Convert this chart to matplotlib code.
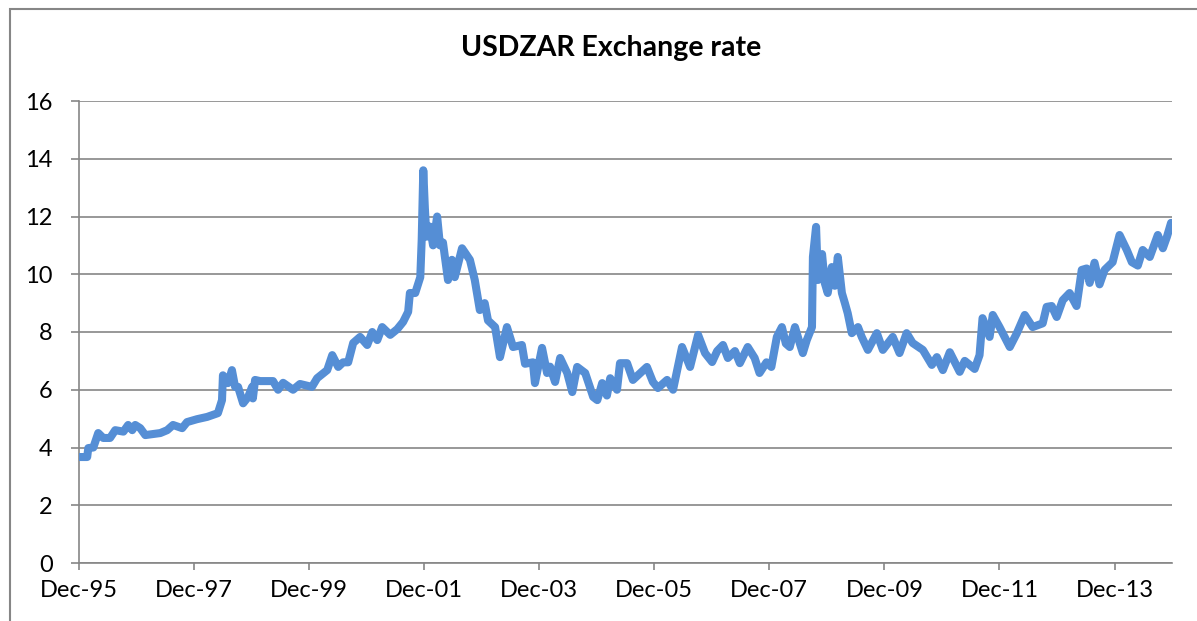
import matplotlib
matplotlib.use("Agg")
import matplotlib.pyplot as plt
import matplotlib.dates as mdates
from matplotlib.patches import Rectangle
import pandas as pd

# USDZAR rate
dates = [
    "1995-12-01", "1996-01-22", "1996-01-29", "1996-03-01", "1996-04-01", "1996-05-03",
    "1996-06-15", "1996-07-18", "1996-09-08", "1996-10-08", "1996-11-03", "1996-11-22",
    "1996-12-24", "1997-01-25", "1997-04-30", "1997-06-13", "1997-07-20", "1997-09-16",
    "1997-10-17", "1997-12-19", "1998-02-22", "1998-05-01", "1998-05-27", "1998-06-02",
    "1998-07-04", "1998-07-29", "1998-08-18", "1998-09-06", "1998-10-08", "1998-11-09",
    "1998-12-04", "1998-12-09", "1998-12-23", "1999-01-24", "1999-04-16", "1999-05-18",
    "1999-06-19", "1999-08-21", "1999-10-04", "1999-12-19", "2000-01-21", "2000-03-25",
    "2000-04-26", "2000-06-03", "2000-07-04", "2000-08-05", "2000-09-06", "2000-10-20",
    "2000-12-04", "2001-01-05", "2001-02-06", "2001-03-09", "2001-04-29", "2001-06-13",
    "2001-07-20", "2001-08-21", "2001-09-01", "2001-10-05", "2001-11-06", "2001-11-15",
    "2001-11-25", "2001-12-05", "2001-12-15", "2002-01-07", "2002-01-26", "2002-02-21",
    "2002-03-11", "2002-03-30", "2002-05-01", "2002-05-26", "2002-06-13", "2002-07-29",
    "2002-09-17", "2002-10-18", "2002-11-19", "2002-12-20", "2003-01-10", "2003-02-24",
    "2003-03-27", "2003-05-10", "2003-06-18", "2003-08-13", "2003-09-02", "2003-10-22",
    "2003-11-04", "2003-12-19", "2004-01-20", "2004-02-08", "2004-03-11", "2004-04-12",
    "2004-05-27", "2004-06-28", "2004-07-29", "2004-09-18", "2004-11-08", "2004-12-04",
    "2005-01-04", "2005-02-03", "2005-02-24", "2005-04-08", "2005-04-27", "2005-06-11",
    "2005-07-18", "2005-10-15", "2005-11-22", "2005-12-24", "2006-02-20", "2006-03-30",
    "2006-05-26", "2006-07-16", "2006-09-05", "2006-10-19", "2006-12-03", "2007-01-04",
    "2007-02-10", "2007-03-13", "2007-04-27", "2007-05-28", "2007-07-17", "2007-08-30",
    "2007-09-30", "2007-11-13", "2007-12-14", "2008-01-18", "2008-02-19", "2008-03-15",
    "2008-04-09", "2008-05-12", "2008-06-12", "2008-07-01", "2008-07-26", "2008-08-28",
    "2008-09-03", "2008-09-23", "2008-10-05", "2008-10-31", "2008-11-17", "2008-12-06",
    "2009-01-01", "2009-01-20", "2009-02-08", "2009-03-06", "2009-03-25", "2009-04-12",
    "2009-05-08", "2009-06-16", "2009-07-10", "2009-08-18", "2009-10-14", "2009-11-21",
    "2010-01-23", "2010-03-07", "2010-04-21", "2010-05-29", "2010-08-02", "2010-09-28",
    "2010-10-30", "2010-12-07", "2011-01-20", "2011-03-24", "2011-04-25", "2011-06-27",
    "2011-07-28", "2011-08-16", "2011-09-30", "2011-10-20", "2011-12-02", "2012-02-05",
    "2012-03-21", "2012-05-10", "2012-06-29", "2012-09-01", "2012-09-26", "2012-10-28",
    "2012-11-29", "2013-01-06", "2013-02-19", "2013-04-04", "2013-05-07", "2013-06-07",
    "2013-06-26", "2013-07-27", "2013-08-28", "2013-09-29", "2013-11-19", "2014-01-02",
    "2014-02-17", "2014-03-21", "2014-04-28", "2014-05-29", "2014-07-13", "2014-09-02",
    "2014-10-04", "2014-10-30", "2014-11-25", "2014-11-30",
]
usdzar = [
    3.67, 3.67, 3.98, 4.00, 4.50, 4.33,
    4.33, 4.60, 4.55, 4.78, 4.60, 4.78,
    4.67, 4.43, 4.50, 4.60, 4.78, 4.67,
    4.88, 4.98, 5.06, 5.19, 5.64, 6.50,
    6.23, 6.68, 6.10, 6.10, 5.53, 5.75,
    6.10, 5.70, 6.34, 6.30, 6.30, 6.00,
    6.24, 6.00, 6.20, 6.10, 6.40, 6.68,
    7.20, 6.79, 6.95, 6.95, 7.62, 7.83,
    7.55, 8.00, 7.72, 8.17, 7.90, 8.10,
    8.35, 8.70, 9.35, 9.35, 9.90, 11.20,
    13.60, 12.30, 11.30, 11.65, 11.00, 12.00,
    11.00, 11.10, 9.80, 10.50, 9.90, 10.90,
    10.50, 9.80, 8.76, 9.00, 8.40, 8.17,
    7.13, 8.17, 7.48, 7.55, 6.90, 6.95,
    6.23, 7.45, 6.58, 6.80, 6.27, 7.10,
    6.58, 5.92, 6.79, 6.58, 5.75, 5.64,
    6.23, 5.80, 6.40, 6.00, 6.92, 6.92,
    6.34, 6.79, 6.27, 6.06, 6.34, 6.00,
    7.48, 6.79, 7.90, 7.27, 6.96, 7.34,
    7.55, 7.10, 7.34, 6.92, 7.48, 7.10,
    6.58, 6.95, 6.79, 7.83, 8.17, 7.60,
    7.48, 8.17, 7.60, 7.27, 7.72, 8.17,
    10.60, 11.64, 9.80, 10.70, 9.70, 9.35,
    10.25, 9.60, 10.60, 9.35, 9.00, 8.65,
    7.96, 8.17, 7.83, 7.38, 7.96, 7.38,
    7.83, 7.27, 7.96, 7.62, 7.38, 6.86,
    7.13, 6.68, 7.30, 6.62, 7.00, 6.72,
    7.20, 8.48, 7.83, 8.59, 8.17, 7.48,
    7.96, 8.59, 8.17, 8.30, 8.87, 8.90,
    8.52, 9.10, 9.35, 8.90, 10.15, 10.20,
    9.70, 10.40, 9.65, 10.15, 10.42, 11.36,
    10.84, 10.42, 10.30, 10.84, 10.60, 11.36,
    10.90, 11.30, 11.78, 11.60,
]
tick_dates = ["1995-12-01", "1997-12-01", "1999-12-01", "2001-12-01", "2003-12-01",
              "2005-12-01", "2007-12-01", "2009-12-01", "2011-12-01", "2013-12-01"]
y_ticks = [0, 2, 4, 6, 8, 10, 12, 14, 16]

grey = "#868686"
plt.rcParams['font.family'] = ['Lato', 'DejaVu Sans']

fig = plt.figure(figsize=(11.97, 6.21), dpi=100)
# chart frame (cropped at the right and bottom)
fig.patches.append(Rectangle((10 / 1197, -0.2), 1.2, 0.2 + 1 - 9 / 621,
                             transform=fig.transFigure, fill=False,
                             edgecolor=grey, linewidth=1.5))

ax = fig.add_axes([79 / 1197, 1 - 563 / 621, (1172 - 79) / 1197, (563 - 101) / 621])
x = pd.to_datetime(dates)
ax.plot(x, usdzar, color="#558ED5", linewidth=5.8, solid_joinstyle="round",
        solid_capstyle="round", zorder=3)

ax.set_xlim(pd.Timestamp("1995-12-01"), pd.Timestamp("2014-12-01"))
ax.set_ylim(0, 16)
ax.set_yticks(y_ticks)
ax.set_xticks(pd.to_datetime(tick_dates))
ax.xaxis.set_major_formatter(mdates.DateFormatter("%b-%y"))

ax.grid(axis="y", color=grey, linewidth=1.2)
ax.set_axisbelow(True)
for s in ["top", "right"]:
    ax.spines[s].set_visible(False)
for s in ["left", "bottom"]:
    ax.spines[s].set_color(grey)
    ax.spines[s].set_linewidth(1.2)
ax.tick_params(axis="y", length=6, width=1.2, color=grey, pad=13, labelsize=17)
ax.tick_params(axis="x", length=5, width=1.2, color=grey, pad=7, labelsize=17)

fig.text(611 / 1197, 1 - 48 / 621, "USDZAR Exchange rate", ha="center", va="center",
         fontsize=20.5, fontweight="bold")

fig.savefig("out.png", dpi=100)
